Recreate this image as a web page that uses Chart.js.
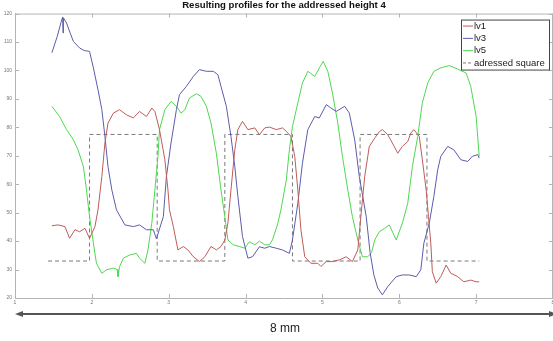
<!DOCTYPE html>
<html>
<head>
<meta charset="utf-8">
<script src="https://cdn.jsdelivr.net/npm/chart.js@4.4.1/dist/chart.umd.min.js"></script>
<style>
html,body{margin:0;padding:0;background:#fff;overflow:hidden;}
#wrap{width:553px;height:341px;position:relative;}
</style>
</head>
<body>
<div id="wrap"><canvas id="c" width="553" height="341"></canvas></div>
<script>
// ---- data ----
const titleText = "Resulting profiles for the addressed height 4";
const seriesNames = ["lv1", "lv3", "lv5", "adressed square"];
const xTicks = [1, 2, 3, 4, 5, 6, 7, 8];
const yTicks = [20, 30, 40, 50, 60, 70, 80, 90, 100, 110, 120];
const scaleLabel = "8 mm";

const lv1 = [[1.48,45.4],[1.56,45.7],[1.65,45.1],[1.71,41.0],[1.78,44.0],[1.84,43.3],[1.91,44.5],[1.97,41.0],[2.04,45.1],[2.08,51.0],[2.13,62.7],[2.17,74.5],[2.21,81.5],[2.28,85.0],[2.36,86.2],[2.45,84.4],[2.54,83.3],[2.62,85.6],[2.71,83.8],[2.78,86.8],[2.82,85.6],[2.88,79.2],[2.95,68.6],[2.99,58.0],[3.01,51.0],[3.06,45.1],[3.12,36.9],[3.19,38.1],[3.25,36.9],[3.32,34.5],[3.40,32.8],[3.47,34.5],[3.55,38.1],[3.62,36.9],[3.68,38.1],[3.73,40.4],[3.77,46.3],[3.81,58.0],[3.86,72.1],[3.90,79.2],[3.96,82.1],[4.03,79.2],[4.12,79.8],[4.18,77.4],[4.25,79.8],[4.31,80.1],[4.40,79.2],[4.48,79.8],[4.53,78.6],[4.59,76.8],[4.64,69.8],[4.68,58.0],[4.72,44.0],[4.77,34.5],[4.85,32.2],[4.94,32.2],[4.98,31.1],[5.05,32.8],[5.13,32.8],[5.22,33.4],[5.31,34.5],[5.39,32.8],[5.46,36.9],[5.50,48.6],[5.55,62.7],[5.61,73.3],[5.68,76.2],[5.74,78.5],[5.78,79.2],[5.85,77.4],[5.91,74.5],[5.98,70.9],[6.04,73.3],[6.11,75.0],[6.15,78.0],[6.19,79.2],[6.26,76.8],[6.30,68.6],[6.35,58.0],[6.38,48.6],[6.41,39.3],[6.43,29.3],[6.48,25.2],[6.54,27.5],[6.61,31.6],[6.67,28.7],[6.76,27.5],[6.84,25.7],[6.93,26.3],[7.00,25.7],[7.04,25.7]];

const lv3 = [[1.48,106.2],[1.55,112.0],[1.60,117.0],[1.62,118.8],[1.625,113.2],[1.63,118.5],[1.67,116.7],[1.72,113.0],[1.76,110.2],[1.84,107.9],[1.90,107.0],[1.97,106.7],[2.02,100.9],[2.08,93.2],[2.13,86.2],[2.17,76.8],[2.21,66.2],[2.26,58.0],[2.32,51.0],[2.43,45.7],[2.54,45.1],[2.62,45.7],[2.71,44.0],[2.80,44.0],[2.84,40.8],[2.93,48.6],[2.97,62.7],[3.03,74.5],[3.10,86.2],[3.14,91.5],[3.23,94.4],[3.32,97.9],[3.40,100.3],[3.49,99.7],[3.58,99.7],[3.64,98.5],[3.68,94.4],[3.75,87.4],[3.81,76.8],[3.86,66.2],[3.90,55.7],[3.96,41.6],[4.03,34.0],[4.09,34.5],[4.18,38.0],[4.25,37.5],[4.31,38.1],[4.40,37.5],[4.48,36.9],[4.57,35.7],[4.61,40.4],[4.68,53.3],[4.74,67.4],[4.81,79.2],[4.90,83.8],[4.96,83.3],[5.05,88.0],[5.11,86.8],[5.18,85.6],[5.29,87.4],[5.35,85.0],[5.42,75.6],[5.48,62.7],[5.57,48.6],[5.62,36.0],[5.67,28.0],[5.72,23.5],[5.78,21.1],[5.85,24.0],[5.96,27.5],[6.04,28.1],[6.13,28.1],[6.22,27.5],[6.28,29.9],[6.32,39.3],[6.39,46.3],[6.45,55.7],[6.50,65.1],[6.54,69.8],[6.63,73.3],[6.71,72.1],[6.80,68.6],[6.89,68.0],[6.95,69.8],[7.02,70.4],[7.04,69.2]];

const lv5 = [[1.48,87.4],[1.58,83.8],[1.67,79.2],[1.76,75.6],[1.82,72.1],[1.89,66.2],[1.93,58.0],[1.97,48.6],[2.02,39.3],[2.06,32.2],[2.13,28.7],[2.19,29.9],[2.28,30.5],[2.33,30.0],[2.34,27.5],[2.36,31.0],[2.41,34.0],[2.49,35.1],[2.58,35.7],[2.62,34.0],[2.69,32.2],[2.73,36.9],[2.78,46.3],[2.82,58.0],[2.86,69.8],[2.88,79.2],[2.95,86.2],[3.03,89.1],[3.10,87.4],[3.16,85.0],[3.21,86.2],[3.27,90.3],[3.36,91.8],[3.42,90.9],[3.49,87.4],[3.55,81.5],[3.62,70.9],[3.68,58.0],[3.73,48.6],[3.77,40.4],[3.84,38.7],[3.92,38.1],[3.99,37.5],[4.05,39.8],[4.12,38.7],[4.18,40.0],[4.25,38.7],[4.31,38.7],[4.35,40.4],[4.42,46.3],[4.46,51.0],[4.53,61.5],[4.57,72.1],[4.61,80.3],[4.68,88.6],[4.74,95.6],[4.81,99.7],[4.90,97.9],[4.96,100.9],[5.01,103.2],[5.07,99.7],[5.13,92.1],[5.20,81.5],[5.26,69.8],[5.33,58.0],[5.39,48.6],[5.46,40.4],[5.52,34.5],[5.59,34.5],[5.64,36.0],[5.68,40.4],[5.74,43.3],[5.81,44.5],[5.87,45.7],[5.96,40.4],[6.04,46.3],[6.11,53.3],[6.17,66.2],[6.24,76.8],[6.30,88.6],[6.37,95.6],[6.45,99.7],[6.54,100.9],[6.65,101.7],[6.76,100.5],[6.87,99.1],[6.93,94.4],[7.00,83.8],[7.04,69.8]];

const squareX = [1.43, 1.97, 1.97, 2.85, 2.85, 3.73, 3.73, 4.61, 4.61, 5.49, 5.49, 6.36, 6.36, 7.04];
const squareY = [33, 33, 77.5, 77.5, 33, 33, 77.5, 77.5, 33, 33, 77.5, 77.5, 33, 33];

// ---- styles ----
const FONT = "'Liberation Sans', Arial, Helvetica, sans-serif";
const colors = ["#bd5c5a", "#5c5cab", "#4fd84f", "#7a7a7a"];
const axisColor = "#b4b4b4";

const toPts = arr => arr.map(p => ({x: p[0], y: p[1]}));
const squarePts = squareX.map((x, i) => ({x: x, y: squareY[i]}));

const lineDs = (label, data, color, dash) => ({
  label, data, borderColor: color, backgroundColor: color,
  borderWidth: 1, pointRadius: 0, pointHoverRadius: 0, pointHitRadius: 0, tension: 0, fill: false,
  borderDash: dash || []
});

const decor = {
  id: 'decor',
  afterDraw(chart) {
    const ctx = chart.ctx, ca = chart.chartArea;
    const xs = chart.scales.x, ys = chart.scales.y;
    ctx.save();
    // box top/right
    ctx.strokeStyle = axisColor; ctx.lineWidth = 1;
    ctx.beginPath();
    ctx.moveTo(ca.left, ca.top + 0.5); ctx.lineTo(ca.right, ca.top + 0.5);
    ctx.moveTo(ca.right - 0.5, ca.top); ctx.lineTo(ca.right - 0.5, ca.bottom);
    ctx.stroke();
    // inward ticks
    const tl = 4;
    ctx.beginPath();
    xTicks.forEach(v => {
      const px = Math.round(xs.getPixelForValue(v)) + 0.5;
      ctx.moveTo(px, ca.bottom); ctx.lineTo(px, ca.bottom - tl);
      ctx.moveTo(px, ca.top); ctx.lineTo(px, ca.top + tl);
    });
    yTicks.forEach(v => {
      const py = Math.round(ys.getPixelForValue(v)) + 0.5;
      ctx.moveTo(ca.left, py); ctx.lineTo(ca.left + tl, py);
      ctx.moveTo(ca.right, py); ctx.lineTo(ca.right - tl, py);
    });
    ctx.stroke();

    // legend box
    const bw = 88, bh = 50;
    const bx = ca.right - 4 - bw, by = ca.top + 6;
    ctx.fillStyle = "#fff";
    ctx.fillRect(bx, by, bw, bh);
    ctx.strokeStyle = "#444"; ctx.lineWidth = 1;
    ctx.strokeRect(bx + 0.5, by + 0.5, bw, bh);
    ctx.font = "9.5px " + FONT;
    ctx.textBaseline = "middle"; ctx.textAlign = "left";
    chart.data.datasets.forEach((ds, i) => {
      const yy = by + 6 + i * 12.3;
      ctx.strokeStyle = ds.borderColor; ctx.lineWidth = 1;
      ctx.setLineDash(ds.borderDash && ds.borderDash.length ? [3, 2] : []);
      ctx.beginPath(); ctx.moveTo(bx + 2, yy + 0.5); ctx.lineTo(bx + 12, yy + 0.5); ctx.stroke();
      ctx.setLineDash([]);
      ctx.fillStyle = "#222";
      ctx.fillText(ds.label, bx + 13, yy + 0.5);
    });

    // scale arrow below the axis
    const ay = ca.bottom + 16;
    ctx.strokeStyle = "#555"; ctx.fillStyle = "#555"; ctx.lineWidth = 2;
    ctx.beginPath(); ctx.moveTo(ca.left + 5, ay); ctx.lineTo(chart.width + 5, ay); ctx.stroke();
    ctx.beginPath();
    ctx.moveTo(ca.left, ay); ctx.lineTo(ca.left + 8, ay - 3); ctx.lineTo(ca.left + 8, ay + 3); ctx.closePath(); ctx.fill();
    ctx.beginPath();
    ctx.moveTo(chart.width + 4, ay); ctx.lineTo(chart.width - 4, ay - 3); ctx.lineTo(chart.width - 4, ay + 3); ctx.closePath(); ctx.fill();
    ctx.fillStyle = "#222";
    ctx.font = "12px " + FONT;
    ctx.textAlign = "center"; ctx.textBaseline = "middle";
    ctx.fillText(scaleLabel, 285, ay + 15);
    ctx.restore();
  }
};

new Chart(document.getElementById('c'), {
  type: 'line',
  data: {
    datasets: [
      lineDs(seriesNames[0], toPts(lv1), colors[0]),
      lineDs(seriesNames[1], toPts(lv3), colors[1]),
      lineDs(seriesNames[2], toPts(lv5), colors[2]),
      lineDs(seriesNames[3], squarePts, colors[3], [4, 3])
    ]
  },
  options: {
    responsive: false,
    animation: false,
    layout: {autoPadding: false, padding: {left: 0, right: 0, top: 0, bottom: 35}},
    plugins: {
      legend: {display: false},
      tooltip: {enabled: false},
      title: {
        display: true, fullSize: false, text: titleText, color: "#111",
        font: {family: FONT, size: 9.6, weight: 'bold', lineHeight: 1.1},
        padding: {top: 0, bottom: 3}
      }
    },
    scales: {
      x: {
        type: 'linear', min: 1, max: 8,
        grid: {display: false, drawTicks: false},
        border: {display: true, color: axisColor, width: 1},
        ticks: {stepSize: 1, color: "#777", font: {family: FONT, size: 5}, padding: 2, maxRotation: 0, autoSkip: false},
        afterFit: s => { s.height = 8; s.paddingRight = 0; }
      },
      y: {
        type: 'linear', min: 20, max: 120,
        grid: {display: false, drawTicks: false},
        border: {display: true, color: axisColor, width: 1},
        ticks: {stepSize: 10, color: "#777", font: {family: FONT, size: 5}, padding: 3, autoSkip: false},
        afterFit: s => { s.width = 15; }
      }
    }
  },
  plugins: [decor]
});
</script>
</body>
</html>
